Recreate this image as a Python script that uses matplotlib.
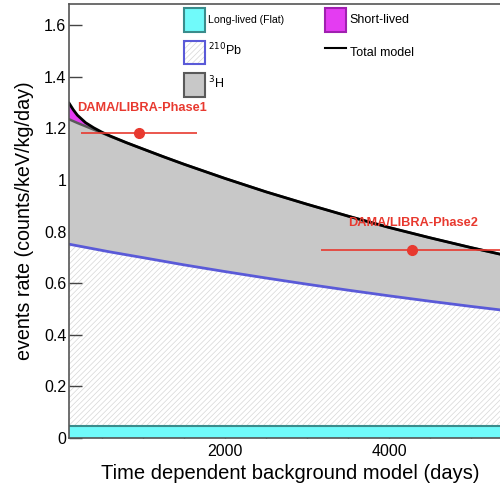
import matplotlib
matplotlib.use("Agg")
import matplotlib.pyplot as plt
from matplotlib.patches import Patch
from matplotlib.lines import Line2D
from matplotlib.legend_handler import HandlerTuple
from matplotlib.ticker import MultipleLocator, FormatStrFormatter

plt.rcParams['font.family'] = ['Liberation Sans', 'DejaVu Sans']
plt.rcParams['hatch.linewidth'] = 0.5

# time axis (days) and stacked components
days = [100, 150, 200, 300, 400, 500, 600, 800, 1000, 1250, 1500, 2000, 2500,
        3000, 3500, 4000, 4500, 5000, 5500]
flat = [0.045] * len(days)
pb210 = [0.706, 0.703, 0.700, 0.694, 0.688, 0.682, 0.676, 0.665, 0.654, 0.640, 0.626,
         0.600, 0.575, 0.551, 0.528, 0.506, 0.485, 0.465, 0.446]
h3 = [0.484, 0.480, 0.476, 0.469, 0.462, 0.455, 0.448, 0.434, 0.421, 0.405, 0.390,
      0.361, 0.334, 0.310, 0.287, 0.265, 0.246, 0.228, 0.211]
short = [0.062, 0.044, 0.030, 0.014, 0.007, 0.003, 0.0015, 0.0004, 0.0001, 0, 0,
         0, 0, 0, 0, 0, 0, 0, 0]

# DAMA/LIBRA points
dama_x = [951, 4280]
dama_y = [1.183, 0.730]
dama_xerr = [707, 1110]
dama_names = ['DAMA/LIBRA-Phase1', 'DAMA/LIBRA-Phase2']

lvl1 = [f for f in flat]
lvl2 = [a + b for a, b in zip(lvl1, pb210)]
lvl3 = [a + b for a, b in zip(lvl2, h3)]
lvl4 = [a + b for a, b in zip(lvl3, short)]

W, H = 500, 486
fig = plt.figure(figsize=(W / 100, H / 100), dpi=100)
x0, x1 = 100, 5500
left_px, right_px = 69.2, 512.0
top_px, bot_px = 4.0, 438.0
ax = fig.add_axes([left_px / W, 1 - bot_px / H, (right_px - left_px) / W, (bot_px - top_px) / H])

cyan = '#70fafa'
teal = '#3a8c8c'
blue = '#5a5ad8'
grey = '#c8c8c8'
dgrey = '#5a5a5a'
mag = '#e43cf2'
red = '#e8392f'

ax.fill_between(days, 0, lvl1, facecolor=cyan, edgecolor='none', zorder=2)
ax.plot(days, lvl1, color=teal, lw=1.5, zorder=3)
ax.fill_between(days, lvl1, lvl2, facecolor='white', edgecolor='#d6d6d6', hatch='//////', lw=0, zorder=1)
ax.fill_between(days, lvl2, lvl3, facecolor=grey, edgecolor='none', zorder=2)
ax.plot(days, lvl3, color=dgrey, lw=1.8, zorder=3)
ax.plot(days, lvl2, color=blue, lw=2, zorder=3)
ax.fill_between(days, lvl3, lvl4, facecolor=mag, edgecolor='none', zorder=2)
ax.plot(days, lvl4, color='black', lw=2, zorder=4)

ax.errorbar(dama_x, dama_y, xerr=dama_xerr, fmt='o', color=red, ms=7, lw=1.2,
            capsize=0, zorder=6, clip_on=True)
ax.text(195, 1.279, dama_names[0], color=red, fontsize=9.2, fontweight='bold',
        va='center', zorder=7)
ax.text(3500, 0.833, dama_names[1], color=red, fontsize=9.2, fontweight='bold',
        va='center', zorder=7)

ax.set_xlim(x0, x1)
ax.set_ylim(0, 1.682)
ax.xaxis.set_major_locator(MultipleLocator(2000))
ax.xaxis.set_minor_locator(MultipleLocator(500))
ax.yaxis.set_major_locator(MultipleLocator(0.2))
ax.yaxis.set_major_formatter(FormatStrFormatter('%g'))
ax.tick_params(axis='both', which='major', direction='in', length=9.4, width=1,
               labelsize=11.5, color='#444444', pad=4)
ax.tick_params(axis='y', which='major', pad=2)
ax.tick_params(axis='x', which='minor', direction='in', length=5, width=1, color='#444444')
for s in ax.spines.values():
    s.set_color('#555555')
    s.set_linewidth(1.2)
    s.set_zorder(8)

ax.set_xlabel('Time dependent background model (days)', fontsize=14.5, labelpad=4)
ax.set_ylabel('events rate (counts/keV/kg/day)', fontsize=14.2, labelpad=7)

h_flat = Patch(facecolor=cyan, edgecolor=teal, lw=1.5)
h_pb = (Patch(facecolor='white', edgecolor='#d6d6d6', hatch='//////', lw=0),
        Patch(facecolor='none', edgecolor=blue, lw=1.5))
h_h3 = Patch(facecolor=grey, edgecolor=dgrey, lw=1.5)
h_short = Patch(facecolor=mag, edgecolor='#a020b0', lw=1.5)
h_tot = Line2D([], [], color='black', lw=1.5)
leg = ax.legend([h_flat, h_pb, h_h3, h_short, h_tot],
                ['Long-lived (Flat)', '$^{210}$Pb', '$^{3}$H', 'Short-lived', 'Total model'],
                ncol=2, loc='upper left', bbox_to_anchor=(184 / W, 1 - 8 / H),
                bbox_transform=fig.transFigure, frameon=False, fontsize=8,
                handlelength=1.9, handleheight=2.9, labelspacing=0.8,
                handletextpad=0.3, columnspacing=3.65, borderpad=0, borderaxespad=0,
                handler_map={tuple: HandlerTuple(ndivide=1, pad=0)})
for i, t in enumerate(leg.get_texts()):
    t.set_fontsize(7.6 if i == 0 else 9)
leg.set_zorder(9)

fig.savefig('out.png', dpi=100)
